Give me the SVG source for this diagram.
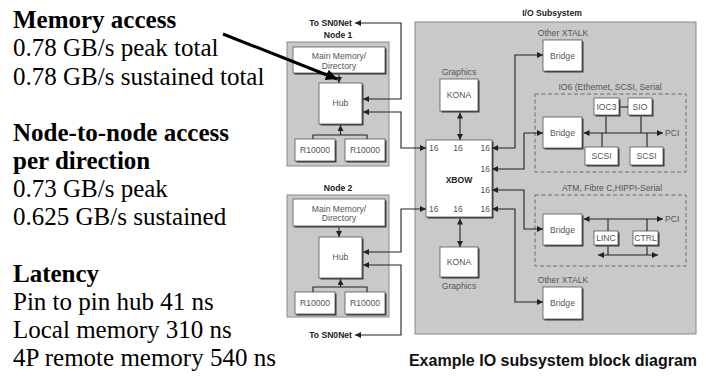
<svg xmlns="http://www.w3.org/2000/svg" width="715" height="377" viewBox="0 0 715 377">
<defs>
<marker id="ah" viewBox="0 0 10 10" refX="10" refY="5" markerWidth="6" markerHeight="6" markerUnits="userSpaceOnUse" orient="auto-start-reverse"><path d="M0,0 L10,5 L0,10 z" fill="#222"/></marker>
<marker id="big" viewBox="0 0 10 10" refX="10" refY="5" markerWidth="14" markerHeight="11" markerUnits="userSpaceOnUse" orient="auto"><path d="M0,0 L10,5 L0,10 z" fill="#000"/></marker>
<style>
.bg{fill:#c9c9c9;stroke:#8a8a8a;stroke-width:1}
.bx{fill:#fff;stroke:#555;stroke-width:0.8}
.sh{fill:#3a3a3a}
.dash{fill:none;stroke:#6a6a6a;stroke-width:1;stroke-dasharray:4 2.5}
.c{fill:none;stroke:#222;stroke-width:1.1}
.ca{marker-end:url(#ah)}
.cb{marker-start:url(#ah);marker-end:url(#ah)}
.s{font-family:"Liberation Sans",Arial,Helvetica,sans-serif;font-size:8.6px;fill:#555;text-anchor:middle;dominant-baseline:central}
.st{text-anchor:start}
.se{text-anchor:end}
.sb{font-weight:bold;fill:#222}
.m{font-family:"Liberation Serif","Times New Roman",serif;font-size:25px;fill:#000}
.mb{font-weight:bold}
.cap{font-family:"Liberation Sans",Arial,sans-serif;font-size:16px;font-weight:bold;fill:#111;text-anchor:middle}
</style>
</defs>
<rect width="715" height="377" fill="#fff"/>

<g id="notes">
<text class="m mb" x="13" y="28">Memory access</text>
<text class="m" x="13" y="56">0.78 GB/s peak total</text>
<text class="m" x="13" y="84.5">0.78 GB/s sustained total</text>
<text class="m mb" x="13" y="141">Node-to-node access</text>
<text class="m mb" x="13" y="169">per direction</text>
<text class="m" x="13" y="197">0.73 GB/s peak</text>
<text class="m" x="13" y="225">0.625 GB/s sustained</text>
<text class="m mb" x="13" y="281.5">Latency</text>
<text class="m" x="13" y="309.5">Pin to pin hub 41 ns</text>
<text class="m" x="13" y="337.5">Local memory 310 ns</text>
<text class="m" x="13" y="366">4P remote memory 540 ns</text>
</g>

<g id="node1">
<rect class="bg" x="287" y="42" width="102" height="124"/>
<text class="s sb" x="338" y="35">Node 1</text>
</g>
<g id="mem1"><rect class="sh" x="294.5" y="48.5" width="92" height="26"/><rect class="bx" x="293" y="47" width="92" height="26"/><text class="s" x="339" y="56">Main Memory/</text><text class="s" x="339" y="65.5">Directory</text></g>
<g id="hub1"><rect class="sh" x="320.5" y="84.5" width="43" height="41"/><rect class="bx" x="319" y="83" width="43" height="41"/><text class="s" x="340.5" y="103">Hub</text></g>
<g id="r1a"><rect class="sh" x="296.5" y="140.5" width="40" height="22"/><rect class="bx" x="295" y="139" width="40" height="22"/><text class="s" x="315" y="150">R10000</text></g>
<g id="r1b"><rect class="sh" x="346.5" y="140.5" width="40" height="22"/><rect class="bx" x="345" y="139" width="40" height="22"/><text class="s" x="365" y="150">R10000</text></g>

<g id="node2">
<rect class="bg" x="287" y="195" width="102" height="122"/>
<text class="s sb" x="338" y="188">Node 2</text>
</g>
<g id="mem2"><rect class="sh" x="294.5" y="200.5" width="92" height="27"/><rect class="bx" x="293" y="199" width="92" height="27"/><text class="s" x="339" y="208.5">Main Memory/</text><text class="s" x="339" y="218">Directory</text></g>
<g id="hub2"><rect class="sh" x="320.5" y="238.5" width="43" height="41"/><rect class="bx" x="319" y="237" width="43" height="41"/><text class="s" x="340.5" y="257">Hub</text></g>
<g id="r2a"><rect class="sh" x="296.5" y="293.5" width="40" height="22"/><rect class="bx" x="295" y="292" width="40" height="22"/><text class="s" x="315" y="303">R10000</text></g>
<g id="r2b"><rect class="sh" x="346.5" y="293.5" width="40" height="22"/><rect class="bx" x="345" y="292" width="40" height="22"/><text class="s" x="365" y="303">R10000</text></g>

<g id="sn0net1"><text class="s sb se" x="352" y="23">To SN0Net</text></g>
<g id="sn0net2"><text class="s sb se" x="352" y="335">To SN0Net</text></g>

<g id="io">
<rect class="bg" x="415" y="22" width="281" height="312"/>
<text class="s sb" x="552" y="13">I/O Subsystem</text>
</g>
<g id="xtalk1"><text class="s" x="563" y="33">Other XTALK</text><rect class="sh" x="544.5" y="41.5" width="39" height="31"/><rect class="bx" x="543" y="40" width="39" height="31"/><text class="s" x="562.5" y="55.5">Bridge</text></g>
<g id="kona1"><text class="s" x="459" y="72">Graphics</text><rect class="sh" x="441.5" y="80.5" width="38" height="32"/><rect class="bx" x="440" y="79" width="38" height="32"/><text class="s" x="459" y="95">KONA</text></g>
<g id="io6">
<text class="s" x="610" y="87">IO6 (Ethernet, SCSI, Serial</text>
<rect class="dash" x="535" y="94" width="151" height="78"/>
</g>
<g id="ioc3"><rect class="sh" x="595.5" y="99.5" width="25" height="17"/><rect class="bx" x="594" y="98" width="25" height="17"/><text class="s" x="606.5" y="106.5">IOC3</text></g>
<g id="sio"><rect class="sh" x="629.5" y="99.5" width="24" height="17"/><rect class="bx" x="628" y="98" width="24" height="17"/><text class="s" x="640" y="106.5">SIO</text></g>
<g id="bridge2"><rect class="sh" x="544.5" y="118.5" width="39" height="31"/><rect class="bx" x="543" y="117" width="39" height="31"/><text class="s" x="562.5" y="132.5">Bridge</text></g>
<g id="scsi1"><rect class="sh" x="586.5" y="148.5" width="33" height="18"/><rect class="bx" x="585" y="147" width="33" height="18"/><text class="s" x="601.5" y="156">SCSI</text></g>
<g id="scsi2"><rect class="sh" x="631.5" y="148.5" width="33" height="18"/><rect class="bx" x="630" y="147" width="33" height="18"/><text class="s" x="646.5" y="156">SCSI</text></g>
<g id="pci1"><text class="s st" x="665" y="133">PCI</text></g>
<g id="xbow"><rect class="sh" x="427.5" y="141.5" width="66" height="77"/><rect class="bx" x="426" y="140" width="66" height="77"/>
<text class="s st" x="429" y="148">16</text><text class="s" x="458" y="148">16</text><text class="s se" x="490" y="148">16</text>
<text class="s se" x="490" y="169">16</text><text class="s se" x="490" y="190">16</text>
<text class="s st" x="429" y="209">16</text><text class="s" x="458" y="209">16</text><text class="s se" x="490" y="209">16</text>
<text class="s sb" x="459" y="180">XBOW</text></g>
<g id="atm">
<text class="s" x="612" y="188">ATM, Fibre C,HIPPI-Serial</text>
<rect class="dash" x="535" y="195" width="151" height="71"/>
</g>
<g id="bridge3"><rect class="sh" x="544.5" y="215.5" width="39" height="31"/><rect class="bx" x="543" y="214" width="39" height="31"/><text class="s" x="562.5" y="229.5">Bridge</text></g>
<g id="linc"><rect class="sh" x="595.5" y="232.5" width="24" height="14"/><rect class="bx" x="594" y="231" width="24" height="14"/><text class="s" x="606" y="238">LINC</text></g>
<g id="ctrl"><rect class="sh" x="634.5" y="232.5" width="25" height="14"/><rect class="bx" x="633" y="231" width="25" height="14"/><text class="s" x="645.5" y="238">CTRL</text></g>
<g id="pci2"><text class="s st" x="665" y="219">PCI</text></g>
<g id="kona2"><rect class="sh" x="441.5" y="248.5" width="38" height="30"/><rect class="bx" x="440" y="247" width="38" height="30"/><text class="s" x="459" y="262">KONA</text><text class="s" x="459" y="286">Graphics</text></g>
<g id="xtalk2"><text class="s" x="563" y="280">Other XTALK</text><rect class="sh" x="544.5" y="288.5" width="39" height="32"/><rect class="bx" x="543" y="287" width="39" height="32"/><text class="s" x="562.5" y="303">Bridge</text></g>

<g id="connectors">
<path class="c ca" d="M339,74.5 V83"/>
<path class="c ca" d="M340.5,135 V125"/>
<path class="c" d="M313,139 V135 H367 V139"/>
<path class="c cb" d="M355,23 H401 V99 H363"/>
<path class="c cb" d="M363,112 H401 V148 H426"/>
<path class="c cb" d="M426,209 H401 V252 H363"/>
<path class="c cb" d="M363,265 H401 V335 H355"/>
<path class="c ca" d="M339,227.5 V237"/>
<path class="c ca" d="M340.5,287 V279"/>
<path class="c" d="M313,292 V287 H367 V292"/>
<path class="c cb" d="M460,112.5 V140"/>
<path class="c cb" d="M460,218.5 V247"/>
<path class="c cb" d="M492,148 H515 V55 H543"/>
<path class="c cb" d="M492,169 H524 V133 H543"/>
<path class="c cb" d="M492,190 H524 V229 H543"/>
<path class="c cb" d="M492,209 H515 V302 H543"/>
<path class="c cb" d="M583.5,133 H663"/>
<path class="c" d="M620.5,107 H628"/>
<path class="c" d="M606,116.5 V133 M641,116.5 V133 M602,133 V147 M647,133 V147"/>
<path class="c cb" d="M583.5,219 H663"/>
<path class="c" d="M608,219 V231 M647,219 V231 M608,246.5 V255 M647,246.5 V255"/>
<path class="c cb" d="M598,255 H658"/>
<path fill="none" stroke="#000" stroke-width="3" marker-end="url(#big)" d="M223,34 L337,79"/>
</g>

<text class="cap" x="553" y="366">Example IO subsystem block diagram</text>
</svg>
